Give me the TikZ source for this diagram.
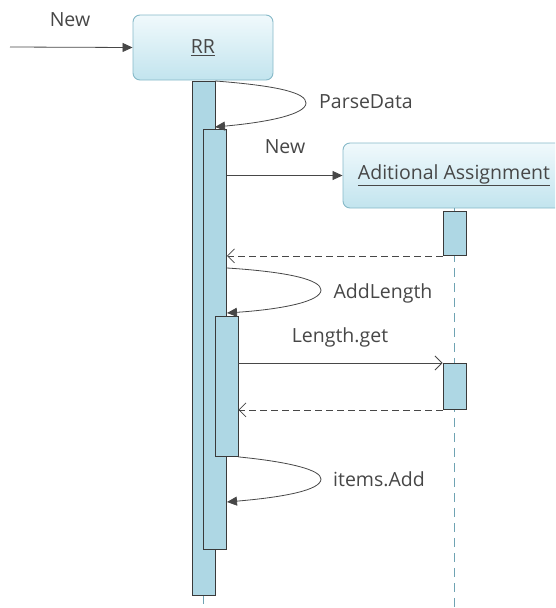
\documentclass[tikz,border=0pt]{standalone}
\usepackage{fontspec}
\setmainfont{Open Sans}
\usetikzlibrary{arrows.meta}
\definecolor{txt}{HTML}{474747}
\definecolor{boxline}{HTML}{86B9C8}
\definecolor{boxtop}{HTML}{F0F9FC}
\definecolor{boxbot}{HTML}{C2E4EE}
\definecolor{actfill}{HTML}{AED7E4}
\definecolor{actline}{HTML}{3A3A3A}
\definecolor{life}{HTML}{6FA3B3}
\begin{document}
\begin{tikzpicture}[x=1pt,y=-1pt,
  lbl/.style={text=txt,font=\fontsize{19.5}{22}\selectfont,inner sep=0pt,anchor=base},
  objbox/.style={draw=boxline,rounded corners=7pt,top color=boxtop,bottom color=boxbot,
    line width=0.9pt,inner sep=0pt,text=txt,font=\fontsize{19.5}{22}\selectfont},
  act/.style={draw=actline,fill=actfill,line width=0.9pt,inner sep=0pt,minimum width=23pt,anchor=north},
  msg/.style={draw=txt,line width=0.8pt,-{Triangle[length=10pt,width=9pt]}},
  call/.style={draw=txt,line width=0.8pt,-{Straight Barb[length=7pt,width=14pt]}},
  ret/.style={draw=txt,line width=0.8pt,dash pattern=on 7pt off 4pt,-{Straight Barb[length=7pt,width=14pt]}},
  lifeline/.style={draw=life,line width=0.9pt,dash pattern=on 9pt off 6pt}
]
\path[use as bounding box] (0,0) rectangle (555,608);
\clip (0,0) rectangle (555,608);
\coordinate (bottom) at (0,608);
\coordinate (start) at (10,47);

% objects
\node[objbox,minimum width=140pt,minimum height=65pt] (rr) at (203,47.5) {\underline{RR}};
\node[objbox,minimum width=222pt,minimum height=65pt] (aa) at (454,175.5) {\underline{Aditional Assignment}};

% lifelines
\draw[lifeline] (aa.south) -- (aa.south |- bottom);
\draw[lifeline] (203.5,595) -- (203.5,608);

% activations
\node[act,minimum height=514pt] (a1) at (203.5,81) {};
\node[act,minimum height=420pt] (a2) at (215,129) {};
\node[act,minimum height=140pt] (a3) at (226.5,316) {};
\node[act,minimum height=44pt] (aa1) at (454.5,211) {};
\node[act,minimum height=46pt] (aa2) at (454.5,363) {};

% messages
\draw[msg] (start) -- (rr.west);
\node[lbl] (lnew1) at (70,26) {New};

\coordinate (pd1) at (a1.north east);
\coordinate (pd2) at (215,127);
\draw[msg] (pd1) .. controls (280,86) and (306,93) .. (306,103)
  .. controls (306,114) and (270,122) .. (pd2);
\node[lbl] (lpd) at (366,108) {ParseData};

\draw[msg] (a2.east |- aa.west) -- (aa.west);
\node[lbl] (lnew2) at (285,153) {New};

\draw[ret] (aa1.south west) -- (a2.east |- aa1.south);

\coordinate (al1) at (227,268);
\coordinate (al2) at (227,313);
\draw[msg] (al1) .. controls (290,272) and (321,280) .. (321,290)
  .. controls (321,301) and (285,309) .. (al2);
\node[lbl] (lal) at (383,298) {AddLength};

\draw[call] (a3.east |- aa2.north) -- (aa2.north west);
\node[lbl] (llg) at (340,342) {Length.get};

\draw[ret] (aa2.south west) -- (a3.east |- aa2.south);

\coordinate (ia2) at (227,502);
\draw[msg] (a3.south east) .. controls (290,462) and (321,470) .. (321,479)
  .. controls (321,490) and (285,497) .. (ia2);
\node[lbl] (lia) at (379,486) {items.Add};
\end{tikzpicture}
\end{document}
